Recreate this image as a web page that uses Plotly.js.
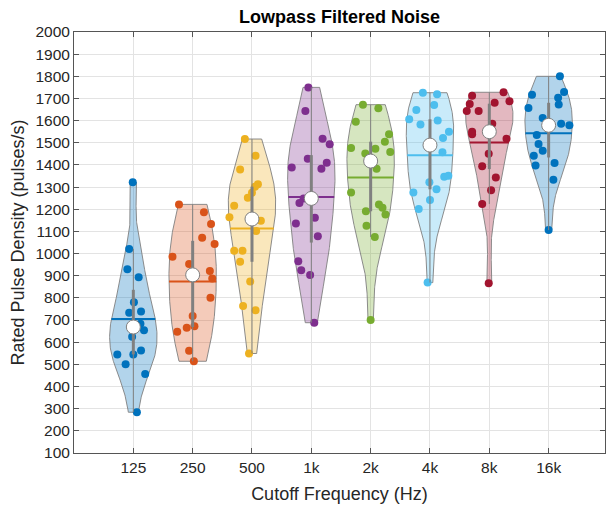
<!DOCTYPE html>
<html>
<head>
<meta charset="utf-8">
<script src="https://cdn.plot.ly/plotly-3.0.1.min.js"></script>
<style>html,body{margin:0;padding:0;background:#fff;overflow:hidden;}#chart{width:606px;height:510px;}</style>
</head>
<body>
<div id="chart"></div>
<script>
// ---- data ----
const categories = ['125', '250', '500', '1k', '2k', '4k', '8k', '16k'];
const colors = ['#0072BD', '#D95319', '#EDB120', '#7E2F8E', '#77AC30', '#4DBEEE', '#A2142F', '#0072BD'];

// ratings (pulses/s) per cutoff frequency
const ratings_125 = [1322, 1021, 929, 893, 780, 733, 739, 683, 654, 625, 545, 545, 563, 500, 457, 284];
const ratings_250 = [1222, 1186, 1133, 1072, 1043, 986, 953, 921, 887, 801, 718, 672, 665, 647, 562, 514];
const ratings_500 = [1517, 1442, 1379, 1313, 1302, 1275, 1252, 1216, 1164, 1148, 1102, 1013, 1013, 963, 874, 763, 744, 549];
const ratings_1k = [1750, 1643, 1518, 1493, 1428, 1410, 1383, 1389, 1249, 1228, 1162, 1136, 1078, 965, 925, 903, 688];
const ratings_2k = [1672, 1656, 1595, 1538, 1505, 1476, 1473, 1458, 1452, 1383, 1276, 1222, 1207, 1191, 1176, 1126, 1075, 700];
const ratings_4k = [1726, 1719, 1648, 1671, 1606, 1601, 1583, 1550, 1522, 1457, 1347, 1351, 1322, 1290, 1276, 1242, 1201, 869];
const ratings_8k = [1728, 1687, 1712, 1681, 1675, 1643, 1643, 1586, 1550, 1538, 1518, 1451, 1394, 1343, 1286, 1224, 866];
const ratings_16k = [1800, 1729, 1717, 1703, 1673, 1657, 1612, 1586, 1579, 1535, 1495, 1464, 1442, 1398, 1409, 1333, 1106];

// horizontal scatter offsets of each dot (category units)
const offsets_125 = [-0.01, -0.07, -0.10, 0.09, 0.01, -0.07, 0.13, 0.12, 0.18, -0.02, -0.27, 0.00, 0.13, -0.13, 0.20, 0.06];
const offsets_250 = [-0.23, 0.19, 0.31, 0.16, 0.37, -0.34, -0.06, 0.29, 0.33, 0.30, 0.00, 0.03, -0.10, -0.26, -0.06, 0.02];
const offsets_500 = [-0.12, 0.06, -0.20, 0.10, 0.05, 0.00, -0.07, -0.30, -0.38, 0.15, 0.07, -0.30, -0.16, -0.20, -0.03, -0.15, 0.06, -0.05];
const offsets_1k = [-0.05, -0.10, 0.19, 0.31, -0.06, 0.26, 0.17, -0.33, -0.13, -0.20, 0.06, -0.26, 0.11, -0.22, -0.17, -0.02, 0.05];
const offsets_2k = [-0.13, 0.13, -0.25, 0.31, 0.24, -0.33, 0.08, 0.33, -0.09, 0.10, -0.33, 0.14, 0.20, -0.08, 0.25, -0.07, 0.07, 0.00];
const offsets_4k = [-0.12, 0.12, -0.23, 0.07, -0.35, 0.13, -0.16, 0.32, 0.22, 0.21, 0.24, 0.31, -0.01, 0.11, -0.28, 0.00, -0.19, -0.04];
const offsets_8k = [0.24, 0.34, -0.29, 0.09, -0.33, -0.38, -0.18, 0.05, -0.29, -0.29, 0.29, -0.01, -0.12, 0.11, 0.03, -0.12, -0.01];
const offsets_16k = [0.19, 0.26, -0.28, 0.16, 0.17, -0.34, -0.10, 0.21, 0.35, -0.20, -0.17, -0.10, -0.25, -0.22, 0.10, 0.08, 0.00];

const groups = [ratings_125, ratings_250, ratings_500, ratings_1k, ratings_2k, ratings_4k, ratings_8k, ratings_16k];
const offsets = [offsets_125, offsets_250, offsets_500, offsets_1k, offsets_2k, offsets_4k, offsets_8k, offsets_16k];

// ---- helpers (statistics derived from the data) ----
const VIOLIN_HALF_WIDTH = 0.4;
function sorted(a) { return a.slice().sort((p, q) => p - q); }
function median(a) { const s = sorted(a), n = s.length; return n % 2 ? s[(n - 1) / 2] : (s[n / 2 - 1] + s[n / 2]) / 2; }
function mean(a) { return a.reduce((s, v) => s + v, 0) / a.length; }
function quantile(a, p) { // MATLAB-style
  const s = sorted(a), n = s.length;
  const pos = p * n - 0.5;
  if (pos <= 0) return s[0];
  if (pos >= n - 1) return s[n - 1];
  const i = Math.floor(pos), f = pos - i;
  return s[i] + f * (s[i + 1] - s[i]);
}
function density(a) {
  const n = a.length, med = median(a);
  const sig = median(a.map(v => Math.abs(v - med))) / 0.6745;
  const bw = sig * Math.pow(4 / (3 * n), 0.2);
  const lo = Math.min(...a), hi = Math.max(...a);
  const ys = [], ds = [];
  const N = 200;
  for (let i = 0; i <= N; i++) {
    const y = lo + (hi - lo) * i / N;
    let s = 0;
    for (const v of a) s += Math.exp(-0.5 * Math.pow((y - v) / bw, 2));
    ys.push(y); ds.push(s);
  }
  const m = Math.max(...ds);
  return { ys: ys, w: ds.map(d => d / m * VIOLIN_HALF_WIDTH) };
}
function widthAt(d, y) {
  for (let i = 1; i < d.ys.length; i++) {
    if (y <= d.ys[i]) { const f = (y - d.ys[i - 1]) / (d.ys[i] - d.ys[i - 1]); return d.w[i - 1] + f * (d.w[i] - d.w[i - 1]); }
  }
  return d.w[d.w.length - 1];
}
function rgba(hex, a) {
  const r = parseInt(hex.slice(1, 3), 16), g = parseInt(hex.slice(3, 5), 16), b = parseInt(hex.slice(5, 7), 16);
  return `rgba(${r},${g},${b},${a})`;
}

const traces = [];
groups.forEach((vals, gi) => {
  const pos = gi + 1, col = colors[gi];
  const d = density(vals);
  // violin outline
  const vx = [], vy = [];
  d.ys.forEach((y, i) => { vx.push(pos + d.w[i]); vy.push(y); });
  for (let i = d.ys.length - 1; i >= 0; i--) { vx.push(pos - d.w[i]); vy.push(d.ys[i]); }
  vx.push(vx[0]); vy.push(vy[0]);
  traces.push({ type: 'scatter', mode: 'lines', x: vx, y: vy, fill: 'toself', fillcolor: rgba(col, 0.3),
    line: { color: 'rgba(128,128,128,0.9)', width: 1 }, hoverinfo: 'skip', showlegend: false });
  // scattered points
  traces.push({ type: 'scatter', mode: 'markers', x: vals.map((v, i) => pos + offsets[gi][i]), y: vals,
    marker: { color: col, size: 8, line: { width: 0 } }, showlegend: false, hoverinfo: 'y' });
  // mean line
  const mu = mean(vals), mw = widthAt(d, mu);
  traces.push({ type: 'scatter', mode: 'lines', x: [pos - mw, pos + mw], y: [mu, mu],
    line: { color: col, width: 2 }, showlegend: false, hoverinfo: 'skip' });
  // whiskers
  const q1 = quantile(vals, 0.25), q3 = quantile(vals, 0.75), iqr = q3 - q1;
  const lowW = Math.min(...vals.filter(v => v > q1 - 1.5 * iqr));
  const hiW = Math.max(...vals.filter(v => v < q3 + 1.5 * iqr));
  traces.push({ type: 'scatter', mode: 'lines', x: [pos, pos], y: [lowW, hiW],
    line: { color: '#808080', width: 1 }, showlegend: false, hoverinfo: 'skip' });
  // box (IQR)
  traces.push({ type: 'scatter', mode: 'lines', x: [pos, pos], y: [q1, q3],
    line: { color: '#808080', width: 3 }, showlegend: false, hoverinfo: 'skip' });
  // median
  traces.push({ type: 'scatter', mode: 'markers', x: [pos], y: [median(vals)],
    marker: { color: '#ffffff', size: 14, line: { color: '#808080', width: 1 } }, showlegend: false, hoverinfo: 'y' });
});

const FONT = 'Liberation Sans, Arial, Helvetica, sans-serif';
const layout = {
  width: 606, height: 510,
  margin: { l: 74, r: 1, t: 32, b: 57 },
  paper_bgcolor: '#ffffff', plot_bgcolor: '#ffffff',
  font: { family: FONT, color: '#262626', size: 15.5 },
  title: { text: '<b>Lowpass Filtered Noise</b>', font: { family: FONT, size: 18, color: '#000000' },
    x: 0.5, xref: 'paper', y: 1 - 17 / 510, yref: 'container', yanchor: 'middle' },
  xaxis: {
    range: [0, 8.95], tickmode: 'array', tickvals: categories.map((c, i) => i + 1), ticktext: categories,
    showgrid: true, gridcolor: '#e3e3e3', gridwidth: 1, zeroline: false,
    showline: true, linecolor: '#555555', linewidth: 1, mirror: 'ticks',
    ticks: 'inside', ticklen: 5, tickcolor: '#555555', tickwidth: 1,
    tickfont: { size: 15.5, color: '#262626' },
    title: { text: 'Cutoff Frequency (Hz)', font: { size: 18, color: '#262626' }, standoff: 12 },
    automargin: false
  },
  yaxis: {
    range: [100, 2000], dtick: 100, tick0: 0,
    showgrid: true, gridcolor: '#e3e3e3', gridwidth: 1, zeroline: false,
    showline: true, linecolor: '#555555', linewidth: 1, mirror: 'ticks',
    ticks: 'inside', ticklen: 5, tickcolor: '#555555', tickwidth: 1,
    tickfont: { size: 15.5, color: '#262626' },
    title: { text: 'Rated Pulse Density (pulses/s)', font: { size: 18, color: '#262626' }, standoff: 6 },
    automargin: false
  }
};

Plotly.newPlot('chart', traces, layout, { staticPlot: true, displayModeBar: false });
</script>
</body>
</html>
